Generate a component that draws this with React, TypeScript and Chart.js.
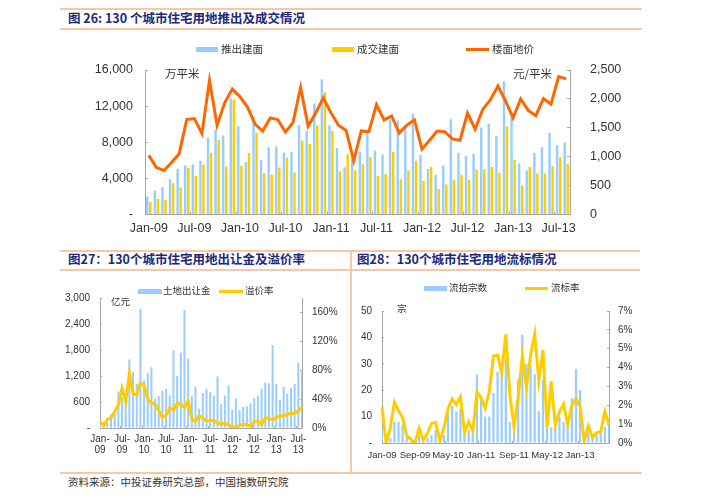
import React, { useEffect, useRef } from 'react';
import { Chart, registerables } from 'chart.js';
Chart.register(...registerables);

// ---------- categories ----------
const months = [
  'Jan-09','Feb-09','Mar-09','Apr-09','May-09','Jun-09','Jul-09','Aug-09','Sep-09','Oct-09','Nov-09','Dec-09',
  'Jan-10','Feb-10','Mar-10','Apr-10','May-10','Jun-10','Jul-10','Aug-10','Sep-10','Oct-10','Nov-10','Dec-10',
  'Jan-11','Feb-11','Mar-11','Apr-11','May-11','Jun-11','Jul-11','Aug-11','Sep-11','Oct-11','Nov-11','Dec-11',
  'Jan-12','Feb-12','Mar-12','Apr-12','May-12','Jun-12','Jul-12','Aug-12','Sep-12','Oct-12','Nov-12','Dec-12',
  'Jan-13','Feb-13','Mar-13','Apr-13','May-13','Jun-13','Jul-13','Aug-13',
];

// ---------- tick labels ----------
const mainXTicks = ['Jan-09','Jul-09','Jan-10','Jul-10','Jan-11','Jul-11','Jan-12','Jul-12','Jan-13','Jul-13'];
const revXTicks = ['Jan-09','Jul-09','Jan-10','Jul-10','Jan-11','Jul-11','Jan-12','Jul-12','Jan-13','Jul-13'];
const failXTicks = ['Jan-09','Sep-09','May-10','Jan-11','Sep-11','May-12','Jan-13'];

// ---------- 图26 series ----------
const supplyArea = [
  2000, 2650, 3020, 3930, 5050, 5450, 5530, 5960, 8500, 9380, 8760, 12840,
  9780, 5820, 10800, 6040, 7450, 7560, 6840, 6910, 9890, 9240, 12290, 14980,
  9890, 7350, 5240, 6220, 6980, 9380, 7080, 6650, 10550, 10440, 9710, 11160,
  6580, 5050, 4400, 5420, 10550, 6840, 6470, 6730, 9640, 10070, 8690, 14760,
  10730, 5640, 4870, 6800, 7450, 9050, 7670, 7960,
];
const dealArea = [
  1380, 1710, 1600, 3450, 3020, 5160, 4250, 5530, 6840, 8250, 5310, 12730,
  5380, 6800, 9050, 4580, 4440, 5200, 6290, 4650, 8180, 7820, 9890, 13530,
  9240, 4800, 6660, 4910, 5570, 6400, 4300, 4470, 6945, 3890, 4870, 5960,
  3750, 5270, 2840, 3310, 3780, 4400, 3850, 4980, 5020, 5270, 4620, 9750,
  6070, 3200, 5270, 4550, 4550, 5350, 6330, 5600,
];
const landPrice = [
  1023, 812, 761, 898, 1051, 1642, 1659, 1403, 2318, 1545, 1932, 2170,
  2040, 1858, 1562, 1443, 1670, 1642, 1426, 1591, 2199, 1528, 1761, 2017,
  1761, 1545, 1455, 930, 1445, 1433, 1900, 1636, 1705, 1409, 1545, 1636,
  1131, 1284, 1443, 1432, 1307, 1284, 1756, 1477, 1818, 1983, 2222, 1966,
  1670, 2000, 1801, 1710, 2006, 1909, 2386, 2347,
];

// ---------- 图27 series ----------
const landRevenue = [
  140, 140, 120, 315, 320, 845, 705, 775, 1585, 1290, 1020, 2750,
  1100, 1270, 1400, 670, 740, 860, 905, 750, 1795, 1205, 1740, 2720,
  1600, 745, 960, 450, 810, 910, 830, 750, 1190, 550, 750, 980,
  430, 680, 415, 485, 500, 570, 690, 735, 910, 1045, 1030, 1910,
  1015, 645, 945, 790, 920, 1015, 1510, 1310,
];
const premiumRate = [
  8.8, 2.8, 12, 13.9, 22.7, 31.9, 55, 36.5, 75.8, 47.2, 45.8, 62.4,
  58.7, 40.2, 34.7, 32.8, 24, 14.8, 18, 28.2, 24, 34.7, 32.8, 28.2,
  37.5, 12.5, 8.8, 17.1, 13.4, 9.7, 10.2, 10.6, 6.9, 5.5, 6.5, 4.2,
  1.4, 0.9, 3.7, 5.5, 4.2, 2.8, 8.8, 9.7, 4.2, 14.3, 12.9, 11.6,
  14.3, 17.1, 16.6, 19, 20.3, 20.3, 23.6, 28.7,
];

// ---------- 图28 series ----------
const failedCount = [
  5, 0, 2, 8, 8, 7, 2, 1, 0, 3, 1, 2,
  3, 5, 1, 3, 11, 14, 12, 13, 4, 5, 4, 26,
  18, 10, 10, 19, 27, 26, 32, 8, 5, 24, 41, 30,
  29, 26, 12, 24, 12, 6, 6, 10, 8, 10, 17, 28,
  20, 2, 4, 2, 4, 4, 6, 7,
];
const failedRate = [
  1.93, 0, 0.78, 2.16, 1.7, 1.36, 0.37, 0.21, 0, 0.78, 0.16, 0.5,
  1.04, 1.1, 0.12, 0.78, 1.82, 2.33, 2.03, 2.46, 0.55, 1.11, 0.64, 2.7,
  2.4, 1.84, 2.72, 4.61, 4.65, 3.73, 5.76, 2.49, 0.87, 2.46, 4.61, 2.95,
  4.66, 5.78, 3.29, 4.93, 0.87, 3.27, 0.95, 1.66, 2.05, 0.97, 2.0, 2.35,
  1.93, 0.12, 0.9, 0.3, 0.55, 0.6, 1.66, 1.0,
];

// ---------- styles ----------
const BLUE = '#99CCFF';
const YELLOW = '#FFCC00';
const ORANGE = '#FF6600';
const AXIS = '#A6A6A6';
const TXT = '#333333';
const PEACH = '#F8C7A3';
const NUM_FONT = "'Liberation Sans', Arial, sans-serif";
const CJK_FONT = "'Noto Sans CJK SC', 'Noto Sans', sans-serif";
const TITLE_COLOR = '#20287A';

const fmt = (v: number) => v.toLocaleString('en-US');

function ChartCanvas({ left, top, width, height, config }: any) {
  const ref = useRef<HTMLCanvasElement | null>(null);
  useEffect(() => {
    if (!ref.current) return;
    const chart = new Chart(ref.current, config);
    return () => chart.destroy();
  }, []);
  return (
    <canvas
      ref={ref}
      width={width}
      height={height}
      style={{ position: 'absolute', left, top, width, height }}
    />
  );
}

const baseOpts = {
  responsive: false,
  animation: false,
  devicePixelRatio: 1,
  plugins: { legend: { display: false }, tooltip: { enabled: false } },
};

const tickGrid = (len: number) => ({
  display: true,
  drawOnChartArea: false,
  drawTicks: true,
  tickLength: -len,
  color: AXIS,
});

// ---------- 图26 ----------
const mainConfig: any = {
  type: 'bar',
  data: {
    labels: months,
    datasets: [
      {
        type: 'line', label: '楼面地价', data: landPrice, yAxisID: 'y1',
        borderColor: ORANGE, backgroundColor: ORANGE, borderWidth: 3,
        pointRadius: 0, tension: 0, order: 0,
      },
      {
        label: '推出建面', data: supplyArea, yAxisID: 'y', backgroundColor: BLUE,
        categoryPercentage: 0.8, barPercentage: 0.8, order: 1,
      },
      {
        label: '成交建面', data: dealArea, yAxisID: 'y', backgroundColor: YELLOW,
        categoryPercentage: 0.8, barPercentage: 0.8, order: 1,
      },
    ],
  },
  options: {
    ...baseOpts,
    layout: { padding: { top: 40, left: 0, right: 0, bottom: 0 } },
    scales: {
      x: {
        offset: true,
        grid: {
          ...tickGrid(3),
          offset: true,
          color: (ctx: any) => (ctx.index % 6 === 0 ? AXIS : 'rgba(0,0,0,0)'),
        },
        border: { display: true, color: AXIS, width: 1 },
        ticks: {
          autoSkip: false, maxRotation: 0, minRotation: 0, padding: 10, color: TXT,
          font: { family: NUM_FONT, size: 12.5 },
          callback: (_v: any, i: number) => (mainXTicks.includes(months[i]) ? months[i] : ''),
        },
        afterFit: (s: any) => { s.height = 27; },
      },
      y: {
        position: 'left', min: 0, max: 16000,
        grid: tickGrid(3),
        border: { display: true, color: AXIS, width: 1 },
        ticks: {
          stepSize: 4000, padding: 15, color: TXT,
          font: { family: NUM_FONT, size: 12.5 },
          callback: (v: number) => (v === 0 ? '-' : fmt(v)),
        },
        afterFit: (s: any) => { s.width = 145; },
      },
      y1: {
        position: 'right', min: 0, max: 2500,
        grid: tickGrid(3),
        border: { display: true, color: AXIS, width: 1 },
        ticks: {
          stepSize: 500, padding: 23, color: TXT,
          font: { family: NUM_FONT, size: 12.5 },
          callback: (v: number) => fmt(v),
        },
        afterFit: (s: any) => { s.width = 133; },
      },
    },
  },
};

// ---------- 图27 ----------
const revConfig: any = {
  type: 'bar',
  data: {
    labels: months,
    datasets: [
      {
        type: 'line', label: '溢价率', data: premiumRate, yAxisID: 'y1',
        borderColor: YELLOW, backgroundColor: YELLOW, borderWidth: 3,
        pointRadius: 0, tension: 0, order: 0,
      },
      {
        label: '土地出让金', data: landRevenue, yAxisID: 'y', backgroundColor: BLUE,
        categoryPercentage: 0.6, barPercentage: 0.9, order: 1,
      },
    ],
  },
  options: {
    ...baseOpts,
    layout: { padding: { top: 23, left: 0, right: 0, bottom: 0 } },
    scales: {
      x: {
        offset: false,
        grid: {
          ...tickGrid(2),
          color: (ctx: any) => (ctx.index % 6 === 0 ? AXIS : 'rgba(0,0,0,0)'),
        },
        border: { display: true, color: AXIS, width: 1 },
        ticks: {
          autoSkip: false, maxRotation: 0, minRotation: 0, padding: 8, color: TXT,
          font: { family: NUM_FONT, size: 10, lineHeight: 1.05 },
          callback: (_v: any, i: number) => {
            const m = months[i];
            if (!revXTicks.includes(m)) return '';
            const [a, b] = m.split('-');
            return [a + '-', b];
          },
        },
        afterFit: (s: any) => { s.height = 37; },
      },
      y: {
        position: 'left', min: 0, max: 3000,
        grid: tickGrid(2),
        border: { display: true, color: AXIS, width: 1 },
        ticks: {
          stepSize: 600, padding: 12, color: TXT,
          font: { family: NUM_FONT, size: 10 },
          callback: (v: number) => (v === 0 ? '-' : fmt(v)),
        },
        afterFit: (s: any) => { s.width = 100; },
      },
      y1: {
        position: 'right', min: 0, max: 180,
        grid: tickGrid(2),
        border: { display: true, color: AXIS, width: 1 },
        ticks: {
          stepSize: 40, padding: 12, color: TXT,
          font: { family: NUM_FONT, size: 10 },
          callback: (v: number) => (v > 170 ? null : v + '%'),
        },
        afterFit: (s: any) => { s.width = 48; },
      },
    },
  },
};

// ---------- 图28 ----------
const failConfig: any = {
  type: 'bar',
  data: {
    labels: months,
    datasets: [
      {
        type: 'line', label: '流标率', data: failedRate, yAxisID: 'y1',
        borderColor: YELLOW, backgroundColor: YELLOW, borderWidth: 3,
        pointRadius: 0, tension: 0, order: 0,
      },
      {
        label: '流拍宗数', data: failedCount, yAxisID: 'y', backgroundColor: BLUE,
        categoryPercentage: 0.6, barPercentage: 0.9, order: 1,
      },
    ],
  },
  options: {
    ...baseOpts,
    layout: { padding: { top: 31, left: 0, right: 0, bottom: 0 } },
    scales: {
      x: {
        offset: false,
        grid: {
          ...tickGrid(2),
          color: (ctx: any) => (ctx.index % 8 === 0 ? AXIS : 'rgba(0,0,0,0)'),
        },
        border: { display: true, color: AXIS, width: 1 },
        ticks: {
          autoSkip: false, maxRotation: 0, minRotation: 0, padding: 8.5, color: TXT,
          font: { family: NUM_FONT, size: 9.5 },
          callback: (_v: any, i: number) => (failXTicks.includes(months[i]) ? months[i] : ''),
        },
        afterFit: (s: any) => { s.height = 22; },
      },
      y: {
        position: 'left', min: 0, max: 50,
        grid: tickGrid(2),
        border: { display: true, color: AXIS, width: 1 },
        ticks: {
          stepSize: 10, padding: 12, color: TXT,
          font: { family: NUM_FONT, size: 10 },
          callback: (v: number) => (v === 0 ? '-' : String(v)),
        },
        afterFit: (s: any) => { s.width = 32; },
      },
      y1: {
        position: 'right', min: 0, max: 7,
        grid: tickGrid(2),
        border: { display: true, color: AXIS, width: 1 },
        ticks: {
          stepSize: 1, padding: 11, color: TXT,
          font: { family: NUM_FONT, size: 10 },
          callback: (v: number) => v + '%',
        },
        afterFit: (s: any) => { s.width = 41; },
      },
    },
  },
};

// ---------- overlay helpers ----------
function Txt({ x, cy, size, children, color = TXT, weight = 400, family = CJK_FONT }: any) {
  return (
    <div
      style={{
        position: 'absolute', left: x, top: cy - size / 2, height: size,
        lineHeight: `${size}px`, fontSize: size, fontFamily: family,
        fontWeight: weight, color, whiteSpace: 'nowrap',
      }}
    >
      {children}
    </div>
  );
}
function Box({ x, y, w, h, color }: any) {
  return <div style={{ position: 'absolute', left: x, top: y, width: w, height: h, background: color }} />;
}
function HLine({ x, y, w }: any) {
  return <div style={{ position: 'absolute', left: x, top: y, width: w, height: 1.5, background: PEACH }} />;
}
function VLine({ x, y, h }: any) {
  return <div style={{ position: 'absolute', left: x, top: y, width: 1.5, height: h, background: PEACH }} />;
}

export default function App() {
  return (
    <div
      style={{
        position: 'absolute', left: 0, top: 0, width: 703, height: 500,
        background: '#ffffff', overflow: 'hidden',
      }}
    >
      {/* frame lines */}
      <HLine x={60} y={8} w={582} />
      <HLine x={60} y={28} w={582} />
      <HLine x={60} y={250} w={580} />
      <HLine x={60} y={269} w={580} />
      <HLine x={60} y={472} w={582} />
      <VLine x={350} y={250} h={222} />

      <ChartCanvas left={0} top={30} width={703} height={215} config={mainConfig} />
      <ChartCanvas left={0} top={275} width={350} height={190} config={revConfig} />
      <ChartCanvas left={350} top={280} width={300} height={185} config={failConfig} />

      {/* titles */}
      <Txt x={68} cy={18} size={12.5} weight={700} color={TITLE_COLOR}>图 26: 130 个城市住宅用地推出及成交情况</Txt>
      <Txt x={68} cy={259} size={12.5} weight={700} color={TITLE_COLOR}>图27：130个城市住宅用地出让金及溢价率</Txt>
      <Txt x={357} cy={259} size={12.5} weight={700} color={TITLE_COLOR}>图28：130个城市住宅用地流标情况</Txt>

      {/* main legend */}
      <Box x={196} y={46.5} w={22} h={5} color={BLUE} />
      <Txt x={221} cy={49} size={10.5}>推出建面</Txt>
      <Box x={332} y={46.5} w={22} h={5} color={YELLOW} />
      <Txt x={357} cy={49} size={10.5}>成交建面</Txt>
      <Box x={466} y={47.5} w={23} h={3} color={ORANGE} />
      <Txt x={492} cy={49} size={10.5}>楼面地价</Txt>
      <Txt x={165} cy={74} size={11.5}>万平米</Txt>
      <Txt x={513} cy={74} size={11.5}>元/平米</Txt>

      {/* 图27 legend */}
      <Box x={138} y={288.5} w={24} h={5} color={BLUE} />
      <Txt x={163} cy={291} size={9.5}>土地出让金</Txt>
      <Box x={219} y={289.5} w={24} h={3} color={YELLOW} />
      <Txt x={245} cy={291} size={9.5}>溢价率</Txt>
      <Txt x={111} cy={302} size={9.5}>亿元</Txt>

      {/* 图28 legend */}
      <Box x={424} y={285.5} w={23} h={5} color={BLUE} />
      <Txt x={449} cy={288} size={9.5}>流拍宗数</Txt>
      <Box x={525} y={286.5} w={23} h={3} color={YELLOW} />
      <Txt x={551} cy={288} size={9.5}>流标率</Txt>
      <Txt x={397} cy={309} size={9.5}>宗</Txt>

      {/* footer */}
      <Txt x={68} cy={482} size={10.5}>资料来源：中投证券研究总部，中国指数研究院</Txt>
    </div>
  );
}
